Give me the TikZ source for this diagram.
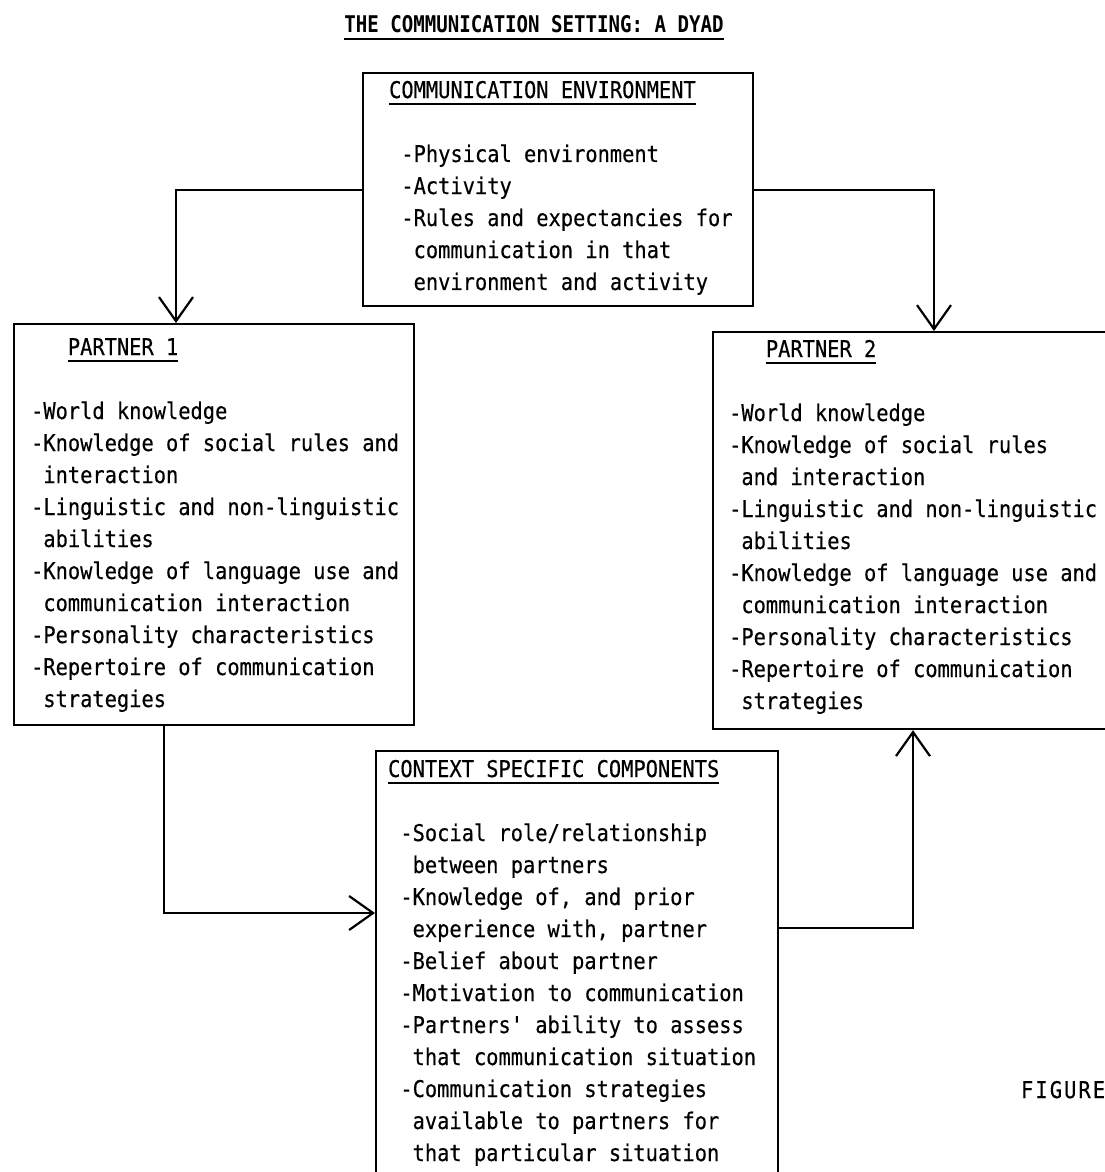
\documentclass[tikz,border=0pt]{standalone}
\usepackage{fontspec}
\usetikzlibrary{arrows.meta,calc}
\newfontfamily\typefont{DejaVu Sans Mono}[FakeStretch=0.886,FakeBold=0.4]
\newfontfamily\titlefont{DejaVu Sans Mono Bold}[FakeStretch=0.83]
\newcommand{\bodyfont}{\typefont\fontsize{11.5pt}{16pt}\selectfont\spaceskip 6.13pt\relax}
\newcommand{\headfont}{\titlefont\fontsize{11.5pt}{16pt}\selectfont\spaceskip 5.75pt\relax}
\newcommand{\monospacing}{\spaceskip 6.13pt\relax\xspaceskip 6.13pt\relax}
\newcommand{\hdline}[1]{\setbox0=\hbox{#1}\rlap{\rule[-3.4pt]{\wd0}{0.9pt}}\box0}
\frenchspacing

\begin{document}
\begin{tikzpicture}[->,>={Straight Barb[length=12pt,width=17pt]},line width=1.1pt,
		x=0.5pt,y=-0.5pt]
		\tikzstyle{panel}=[draw=black,rectangle,inner sep=0pt,anchor=north west]
		\tikzstyle{entries}=[anchor=base west,inner sep=0pt,text width=215pt,align=left,font=\bodyfont,
			execute at begin node=\monospacing]
		\useasboundingbox (0,0) rectangle (1104,1172);
		
		\node[anchor=base,inner sep=0pt,font=\headfont] (title) at (534,33) {\hdline{THE COMMUNICATION SETTING: A DYAD}};
		
		\node[panel,minimum width=195pt,minimum height=116.5pt]	(env)	at (362,72)		{};
		\node[panel,minimum width=200pt,minimum height=200.5pt]	(p1)	at (13,323)		{};
		\node[panel,minimum width=200pt,minimum height=198.5pt]	(p2)	at (712,331)	{};
		\node[panel,minimum width=201pt,minimum height=225pt]	(ctx)	at (375,750)	{};
		
		\node[entries] (envtext) at ($(env.north west)+(26,26)$) {\hdline{COMMUNICATION ENVIRONMENT}\\[16pt]
			~-Physical environment\\
			~-Activity\\
			~-Rules and expectancies for\\
			~~communication in that\\
			~~environment and activity};
		\node[entries] (p1text) at ($(p1.north west)+(17,32)$) {~~~\hdline{PARTNER 1}\\[16pt]
			-World knowledge\\
			-Knowledge of social rules and\\
			~interaction\\
			-Linguistic and non-linguistic\\
			~abilities\\
			-Knowledge of language use and\\
			~communication interaction\\
			-Personality characteristics\\
			-Repertoire of communication\\
			~strategies};
		\node[entries] (p2text) at ($(p2.north west)+(16,26)$) {~~~\hdline{PARTNER 2}\\[16pt]
			-World knowledge\\
			-Knowledge of social rules\\
			~and interaction\\
			-Linguistic and non-linguistic\\
			~abilities\\
			-Knowledge of language use and\\
			~communication interaction\\
			-Personality characteristics\\
			-Repertoire of communication\\
			~strategies};
		\node[entries] (ctxtext) at ($(ctx.north west)+(12,27)$) {\hdline{CONTEXT SPECIFIC COMPONENTS}\\[16pt]
			~-Social role/relationship\\
			~~between partners\\
			~-Knowledge of, and prior\\
			~~experience with, partner\\
			~-Belief about partner\\
			~-Motivation to communication\\
			~-Partners' ability to assess\\
			~~that communication situation\\
			~-Communication strategies\\
			~~available to partners for\\
			~~that particular situation};
		
		\node[anchor=base west,inner sep=0pt,font=\bodyfont\addfontfeature{LetterSpace=9}] (fig) at (1020,1098) {FIGURE};
		
		% environment feeds both partners
		\draw (env.west) -| ($(p1.north west)+(163,0)$);
		\draw (env.east) -| ($(p2.north west)+(222,0)$);
		% partner 1 -> context -> partner 2
		\draw ($(p1.south west)+(151,0)$) |- ($(ctx.north west)+(0,163)$);
		\draw ($(ctx.north east)+(0,178)$) -| ($(p2.south west)+(201,0)$);
		\end{tikzpicture}
\end{document}
